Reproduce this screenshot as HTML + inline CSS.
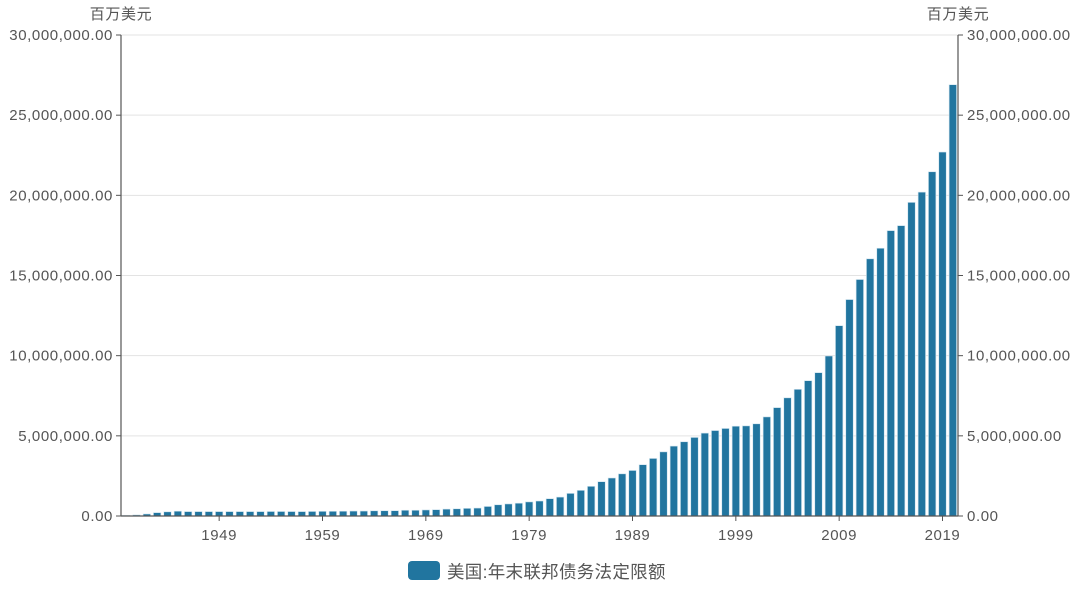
<!DOCTYPE html>
<html><head><meta charset="utf-8"><style>
body{margin:0;background:#fff;}
text{font-family:"Liberation Sans","Noto Sans CJK SC",sans-serif;fill:#555;font-size:15px;letter-spacing:0.6px;}
</style></head><body>
<svg id="chart" width="1080" height="587" xmlns="http://www.w3.org/2000/svg"></svg>
<script>
const years = [];
for (let y = 1940; y <= 2020; y++) years.push(y);
const values = [0.045,0.065,0.125,0.21,0.26,0.3,0.275,0.275,0.275,0.275,0.275,0.275,0.275,0.275,
0.281,0.281,0.278,0.275,0.283,0.29,0.293,0.298,0.308,0.309,0.324,0.328,0.33,0.358,0.358,0.377,0.395,0.43,0.45,0.476,0.495,0.595,0.7,0.752,0.798,0.879,0.935,1.08,
1.18,1.41,1.6,1.85,2.14,2.37,2.63,2.84,3.2,3.59,4.0,4.36,4.63,4.9,5.17,5.33,5.46,5.6,5.62,5.75,6.18,6.76,7.37,7.9,8.44,8.94,9.98,11.87,13.5,14.75,16.04,16.7,17.8,18.11,19.56,20.2,21.47,22.7,26.9].map(v=>v*1e6);
const yTicks = [0,5e6,10e6,15e6,20e6,25e6,30e6];
const xLabels = [1949,1959,1969,1979,1989,1999,2009,2019];

const svg = document.getElementById('chart');
const NS = 'http://www.w3.org/2000/svg';
const L = 121, R = 958, T = 35, B = 516, yMax = 30e6;
const band = (R - L) / years.length;
const xC = i => L + band * (i + 0.5);
const yS = v => B - (v / yMax) * (B - T);
function el(tag, attrs, txt){const e=document.createElementNS(NS,tag);for(const k in attrs)e.setAttribute(k,attrs[k]);if(txt!==undefined)e.textContent=txt;svg.appendChild(e);return e;}
const fmt = v => v.toLocaleString('en-US',{minimumFractionDigits:2,maximumFractionDigits:2});

yTicks.forEach(t=>{
  const y = yS(t);
  if (t>0){
    const g = el('line',{x1:L,x2:R,y1:y,y2:y,stroke:'#e3e3e3','stroke-width':1});
    
    
  }
  const tl = el('line',{x1:L-5,x2:L,y1:y,y2:y,stroke:'#555'});
  
  
  const tr = el('line',{x1:R,x2:R+5,y1:y,y2:y,stroke:'#555'});
  
  
  const a = el('text',{x:L-8,y:y+5,'text-anchor':'end'},fmt(t));
  
  
  const b = el('text',{x:R+9,y:y+5,'text-anchor':'start'},fmt(t));
  
  
});

values.forEach((v,i)=>{
  const w = band*0.72;
  const r = el('rect',{x:xC(i)-w/2,y:yS(v),width:w,height:B-yS(v),fill:'#21759f',stroke:'#d0e4ef','stroke-width':0.6});
  
  
});

const ax = [['left-y-axis',L,T,L,B],['right-y-axis',R,T,R,B],['x-axis',L,B,R,B]];
ax.forEach(a=>{
  const l = el('line',{x1:a[1],y1:a[2],x2:a[3],y2:a[4],stroke:'#555','stroke-width':1.2});
  
  
});

xLabels.forEach(yr=>{
  const i = years.indexOf(yr);
  const x = xC(i);
  const t = el('line',{x1:x,x2:x,y1:B,y2:B+5,stroke:'#555'});
  
  
  const lb = el('text',{x:x,y:B+24,'text-anchor':'middle'},yr);
  
  
});

const u1 = el('text',{x:121,y:19,'text-anchor':'middle'},'百万美元');


const u2 = el('text',{x:958,y:19,'text-anchor':'middle'},'百万美元');



const lg = el('rect',{x:408,y:561,width:32,height:19,rx:4,fill:'#21759f'});


const lt = el('text',{x:447,y:578},'美国:年末联邦债务法定限额');


lt.style.fontSize='17.5px';
lt.style.letterSpacing='0.3px';
</script>
</body></html>
